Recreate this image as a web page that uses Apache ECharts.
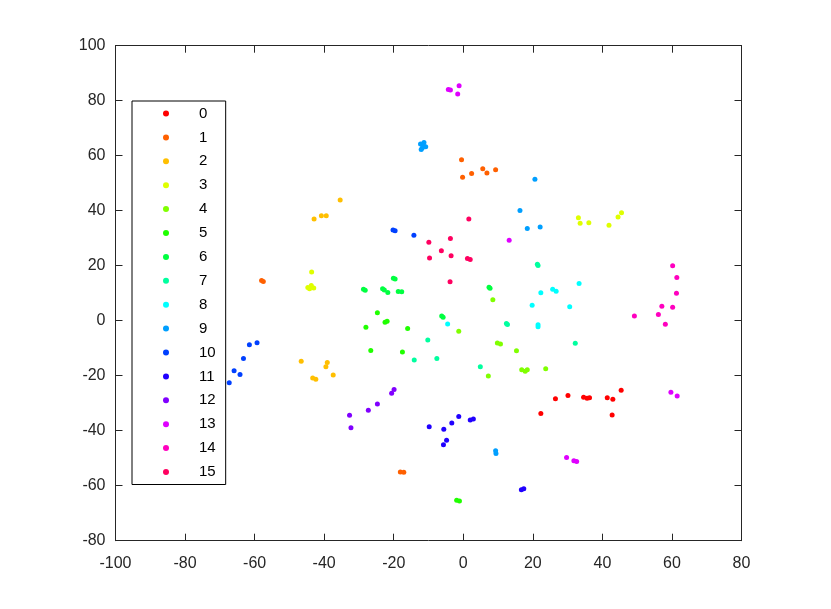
<!DOCTYPE html>
<html><head><meta charset="utf-8">
<script src="https://cdn.jsdelivr.net/npm/echarts@6/dist/echarts.min.js"></script>
<style>html,body{margin:0;padding:0;background:#fff}#c{width:831px;height:609px}</style>
</head><body><div id="c"></div>
<script>
const classNames = ['0','1','2','3','4','5','6','7','8','9','10','11','12','13','14','15'];
const classColors = ['#FF0000','#FF6000','#FFBF00','#DFFF00','#80FF00','#20FF00','#00FF40','#00FF9F','#00FFFF','#009FFF','#0040FF','#2000FF','#8000FF','#DF00FF','#FF00BF','#FF0060'];
const xTicks = [-100,-80,-60,-40,-20,0,20,40,60,80];
const yTicks = [-80,-60,-40,-20,0,20,40,60,80,100];

const c0 = [[26.5,-28.4],[30.1,-27.2],[34.6,-27.8],[35.6,-28.2],[36.3,-28.0],[41.4,-28.0],[43.0,-28.6],[45.4,-25.3],[22.3,-33.7],[42.8,-34.3]];
const c1 = [[-0.5,58.5],[-0.2,52.2],[2.4,53.5],[5.6,55.3],[6.8,53.7],[9.3,54.9],[-58.0,14.6],[-57.5,14.3],[-18.1,-55.0],[-17.1,-55.1]];
const c2 = [[-35.4,43.9],[-42.9,37.0],[-40.8,38.2],[-39.4,38.2],[-46.6,-14.7],[-39.1,-15.2],[-39.5,-16.7],[-37.4,-19.7],[-43.3,-20.8],[-42.4,-21.3]];
const c3 = [[33.1,37.4],[33.6,35.4],[36.1,35.6],[41.9,34.7],[44.5,37.7],[45.5,39.3],[-43.6,17.7],[-44.7,12.1],[-43.7,12.8],[-43.0,11.9],[-44.2,11.6]];
const c4 = [[8.5,7.6],[-1.3,-3.8],[9.8,-8.1],[10.7,-8.5],[15.3,-10.9],[16.8,-17.8],[17.8,-18.4],[18.4,-17.8],[23.7,-17.5],[7.2,-20.1]];
const c5 = [[-24.7,2.9],[-22.5,-0.6],[-21.9,-0.2],[-28.0,-2.4],[-16.0,-2.8],[-26.6,-10.8],[-17.5,-11.4],[-1.9,-65.3],[-1.1,-65.6]];
const c6 = [[-20.1,15.4],[-19.6,15.2],[-28.7,11.4],[-28.2,11.1],[-23.2,11.6],[-22.7,11.2],[-21.7,10.3],[-18.7,10.6],[-17.7,10.5],[7.4,12.2],[7.7,11.8],[-6.2,1.7],[-5.8,1.3]];
const c7 = [[21.3,20.5],[21.5,20.1],[12.4,-1.0],[12.7,-1.4],[32.2,-8.2],[-10.2,-7.0],[-7.6,-13.7],[4.9,-16.7],[-14.1,-14.3]];
const c8 = [[22.3,10.2],[25.7,11.4],[26.7,10.7],[33.3,13.5],[19.8,5.6],[30.6,5.1],[21.5,-2.2],[21.5,-1.5],[-4.5,-1.2]];
const c9 = [[-12.3,64.3],[-11.3,64.8],[-11.8,62.8],[-10.8,63.3],[-12.1,62.3],[-11.5,63.6],[20.6,51.4],[16.3,40.1],[18.4,33.5],[22.1,34.1],[9.3,-47.3],[9.4,-48.3]];
const c10 = [[-20.2,33.0],[-19.6,32.7],[-14.2,31.1],[-61.5,-8.7],[-59.3,-8.0],[-63.2,-13.7],[-65.9,-18.2],[-64.2,-19.6],[-67.3,-22.6]];
const c11 = [[-9.8,-38.6],[-5.6,-39.5],[-3.3,-37.2],[-1.3,-34.8],[2.0,-36.1],[2.9,-35.7],[-4.8,-43.5],[-5.7,-45.1],[16.7,-61.5],[17.4,-61.1]];
const c12 = [[-19.9,-25.0],[-20.6,-26.4],[-24.7,-30.3],[-27.3,-32.6],[-32.7,-34.4],[-32.3,-38.9]];
const c13 = [[-4.3,84.1],[-3.7,83.9],[-1.2,85.4],[-1.6,82.4],[13.2,29.3],[29.7,-49.7],[31.8,-50.9],[32.6,-51.2],[59.7,-26.0],[61.5,-27.4]];
const c14 = [[60.2,20.0],[61.4,15.7],[61.3,10.0],[57.1,5.3],[60.2,4.9],[56.1,2.3],[49.2,1.7],[58.1,-1.3]];
const c15 = [[1.6,37.0],[-9.9,28.5],[-3.7,29.9],[-6.3,25.4],[-9.7,22.8],[-3.5,23.6],[1.2,22.6],[2.0,22.3],[-3.8,14.2]];
const classData = [c0,c1,c2,c3,c4,c5,c6,c7,c8,c9,c10,c11,c12,c13,c14,c15];

const axisColor = '#262626';
const font = 'Liberation Sans, Arial, sans-serif';
function mkX(pos, showLabel){
  return {type:'value', position:pos, min:xTicks[0], max:xTicks[xTicks.length-1], interval:20,
    axisLine:{show:true, onZero:false, lineStyle:{color:axisColor, width:1}},
    axisTick:{show:true, inside:true, length:7, lineStyle:{color:axisColor}},
    axisLabel:{show:showLabel, color:axisColor, fontSize:16, fontFamily:font, margin:15},
    splitLine:{show:false}};
}
function mkY(pos, showLabel){
  return {type:'value', position:pos, min:yTicks[0], max:yTicks[yTicks.length-1], interval:20,
    axisLine:{show:true, onZero:false, lineStyle:{color:axisColor, width:1}},
    axisTick:{show:true, inside:true, length:7, lineStyle:{color:axisColor}},
    axisLabel:{show:showLabel, color:axisColor, fontSize:16, fontFamily:font, margin:10},
    splitLine:{show:false}};
}
const chart = echarts.init(document.getElementById('c'), null, {renderer:'canvas'});
chart.setOption({
  animation:false,
  backgroundColor:'#fff',
  grid:{left:115.5, right:89.5, top:45.7, bottom:68.3, containLabel:false},
  xAxis:[mkX('bottom', true), mkX('top', false)],
  yAxis:[mkY('left', true), mkY('right', false)],
  legend:{
    orient:'vertical', left:132, top:101,
    padding:[5,10,5,31],
    borderColor:'#000', borderWidth:1, backgroundColor:'#fff',
    itemWidth:6, itemHeight:16, itemGap:8.9,
    icon:'circle',
    textStyle:{fontSize:15, fontFamily:font, color:'#000', padding:[0,0,0,25]},
    data:classNames
  },
  series: classNames.map((n,i)=>({
    type:'scatter', name:n, data:classData[i], xAxisIndex:0, yAxisIndex:0,
    symbol:'circle', symbolSize:5,
    itemStyle:{color:classColors[i], opacity:1}
  }))
});
</script></body></html>
